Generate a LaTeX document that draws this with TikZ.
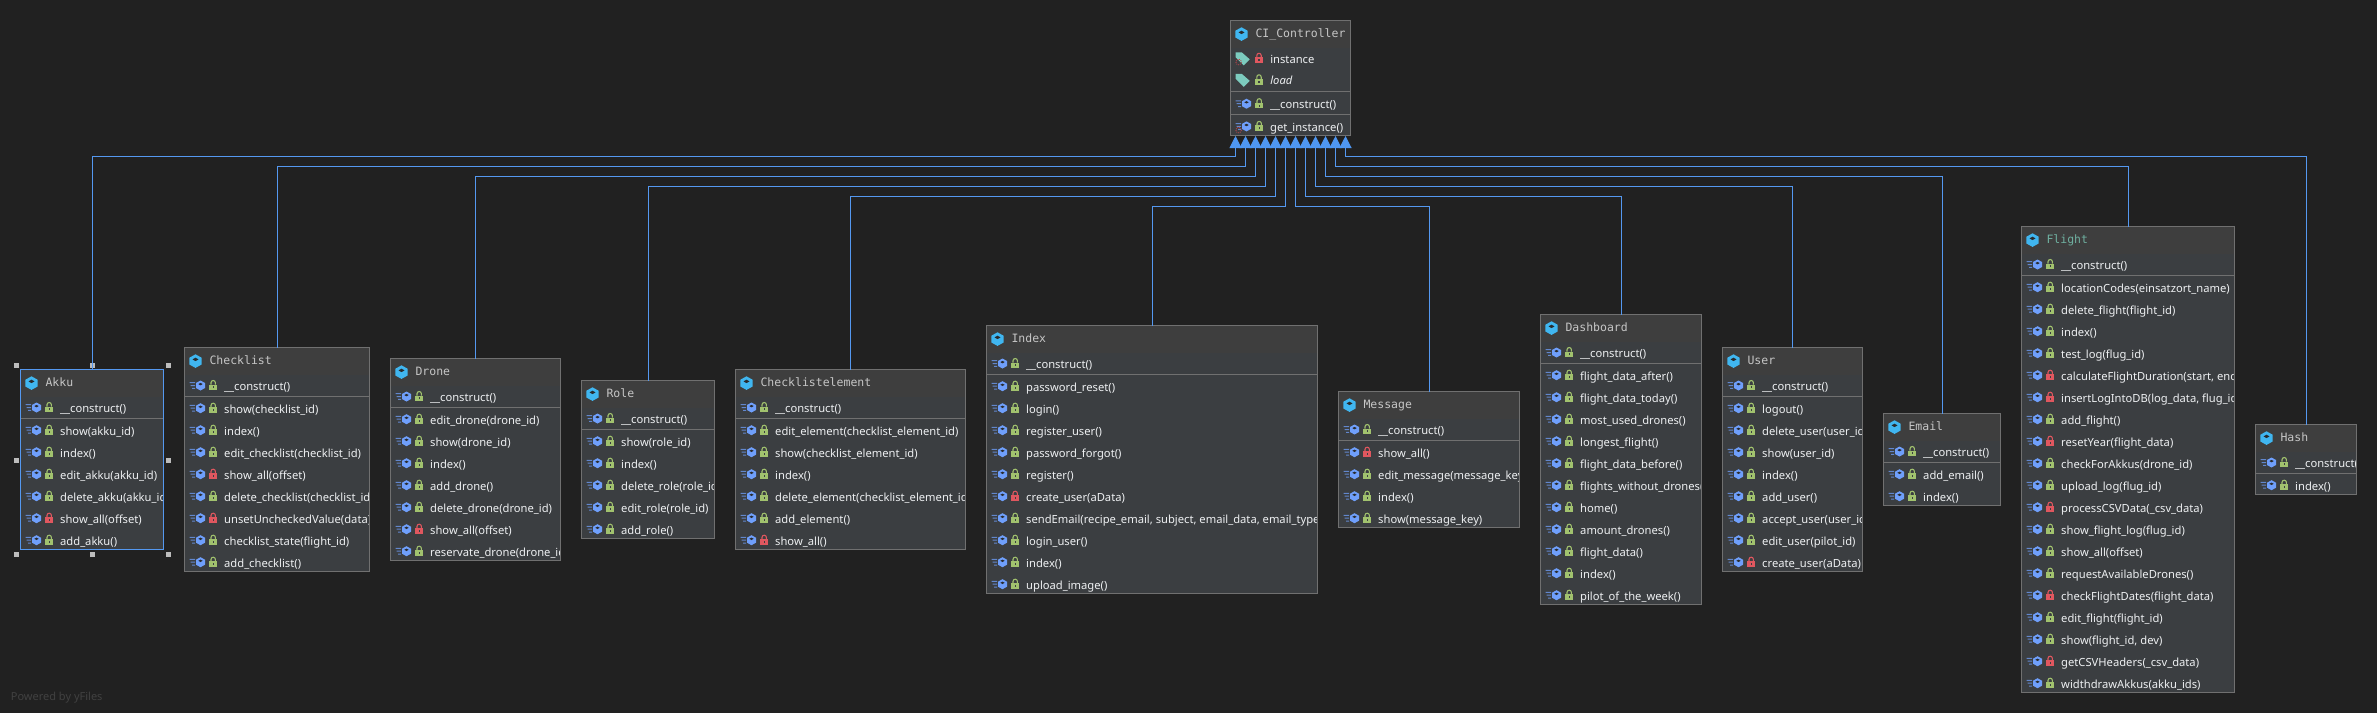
\documentclass[tikz,border=0pt]{standalone}
\usepackage{fontspec}
\setmainfont{Noto Sans}
\newfontfamily\titlefont{DejaVu Sans Mono}
\usetikzlibrary{arrows.meta}
\definecolor{bgc}{HTML}{212121}
\definecolor{bodyc}{HTML}{3B3E41}
\definecolor{headc}{HTML}{3E3E3E}
\definecolor{edgec}{HTML}{707070}
\definecolor{linec}{HTML}{5498F0}
\definecolor{tipc}{HTML}{4F97F2}
\definecolor{cubec}{HTML}{40B6F0}
\definecolor{methc}{HTML}{6F9FFB}
\definecolor{okc}{HTML}{A1C26E}
\definecolor{redc}{HTML}{E0575F}
\definecolor{tagc}{HTML}{7CCBBE}
\definecolor{titlec}{HTML}{C6C6C6}
\definecolor{textc}{HTML}{EEF0F2}
\definecolor{flightc}{HTML}{6FB0A0}
\definecolor{handlec}{HTML}{BDBDBD}
\definecolor{yfc}{HTML}{414141}
\tikzset{
  classbox/.style={draw=edgec,fill=bodyc,line width=1pt,inner sep=0pt,outer sep=0pt,anchor=north west},
  titletext/.style={anchor=base west,inner sep=0pt,outer sep=0pt,text=titlec,font=\titlefont\fontsize{11.5}{13}\selectfont},
  rowtext/.style={anchor=base west,inner sep=0pt,outer sep=0pt,text=textc,font=\fontsize{11.2}{13}\selectfont},
  inh/.style={draw=linec,line width=1pt,-{Triangle[width=12pt,length=12pt,color=tipc]}},
  sepline/.style={draw=edgec,line width=1pt},
}
\newcommand\classicon[2]{\begin{scope}[shift={(#1,#2)}]
  \fill[cubec] (0,-6.8) -- (6.1,-3.4) -- (6.1,3.4) -- (0,6.8) -- (-6.1,3.4) -- (-6.1,-3.4) -- cycle;
  \fill[bodyc!70!black] (0,-3.4) -- (3,-1.7) -- (0,0) -- (-3,-1.7) -- cycle;
\end{scope}}
\newcommand\methodicon[2]{\begin{scope}[shift={(#1,#2)}]
  \fill[methc] (0,-5) -- (4.5,-2.5) -- (4.5,2.5) -- (0,5) -- (-4.5,2.5) -- (-4.5,-2.5) -- cycle;
  \fill[bodyc!70!black] (0,-2.6) -- (2.2,-1.4) -- (0,-.2) -- (-2.2,-1.4) -- cycle;
  \fill[methc!75!bodyc] (-11,-3.4) rectangle (-5.4,-2.4) (-10,-.5) rectangle (-5.4,.5) (-8.5,2.4) rectangle (-5.4,3.4);
\end{scope}}
\newcommand\lockicon[3]{\begin{scope}[shift={(#1,#2)}]
  \draw[#3,line width=1.1pt] (-2.2,-.8) -- (-2.2,-2.8) arc[start angle=180,end angle=0,x radius=2.2,y radius=-2.2] -- (2.2,-.8);
  \fill[#3] (-3.8,-1) rectangle (3.8,4.7);
  \fill[bodyc] (-.7,.8) rectangle (.7,2.8);
\end{scope}}
\newcommand\tagicon[2]{\begin{scope}[shift={(#1,#2)}]
  \fill[tagc] (-7,-6) -- (-1,-6) -- (7,1) -- (1,7) -- (-7,-1) -- cycle;
\end{scope}}
\newcommand\staticmark[2]{\draw[redc!80!black,line width=.9pt,densely dotted] (#1,#2) circle[radius=2.8];}
% row of a method list: node name, x0, baseline y, lock colour, text
\newcommand\methodrow[5]{%
  \pgfmathsetmacro\ix{#2+16}\pgfmathsetmacro\iy{#3-5}\pgfmathsetmacro\lx{#2+28.7}\pgfmathsetmacro\tx{#2+39.7}%
  \methodicon{\ix}{\iy}\lockicon{\lx}{\iy}{#4}%
  \node[rowtext] (#1) at (\tx,#3) {#5};}
\newcommand\classbody[6]{% name, x0, x1, y0, title colour, title
  \pgfmathsetmacro\hx{#2+.5}\pgfmathsetmacro\hxx{#3-.5}\pgfmathsetmacro\hy{#4+.5}\pgfmathsetmacro\hyy{#4+27}%
  \fill[headc] (\hx,\hy) rectangle (\hxx,\hyy);
  \pgfmathsetmacro\ix{#2+11}\pgfmathsetmacro\iy{#4+13.6}\classicon{\ix}{\iy}%
  \pgfmathsetmacro\tx{#2+25}\pgfmathsetmacro\ty{#4+16.5}%
  \node[titletext,text=#5] (#1-title) at (\tx,\ty) {#6};
}
% full class: name, x0, x1, y0, row count, title colour, title, rows
\newcommand\fullclass[8]{%
  \pgfmathsetmacro\bw{#3-#2}\pgfmathsetmacro\hh{48+22*#5}%
  \node[classbox,minimum width=\bw pt,minimum height=\hh pt] (#1) at (#2,#4) {};
  \classbody{#1}{#2}{#3}{#4}{#6}{#7}
  \begin{scope}
    \pgfmathsetmacro\cy{#4+\hh-.5}\pgfmathsetmacro\cxa{#2+.5}\pgfmathsetmacro\cxb{#3-.5}\pgfmathsetmacro\cyy{#4+.5}%
    \clip (\cxa,\cyy) rectangle (\cxb,\cy);
    \pgfmathsetmacro\cb{#4+43}%
    \methodrow{#1-ctor}{#2}{\cb}{okc}{\_\_construct()}
    \foreach \cc/\mm [count=\i] in {#8} {
      \pgfmathsetmacro\by{#4+65.7+22*(\i-1)}
      \methodrow{#1-r\i}{#2}{\by}{\cc}{\mm}
    }
  \end{scope}
  \pgfmathsetmacro\sy{#4+49}%
  \draw[sepline] (#2,\sy) -- (#3,\sy);
  \node[classbox,fill=none,minimum width=\bw pt,minimum height=\hh pt] (#1-frame) at (#2,#4) {};
}
\begin{document}
\begin{tikzpicture}[x=1pt,y=-1pt]
\useasboundingbox (0,0) rectangle (2377,713);
\fill[bgc] (0,0) rectangle (2377,713);

% ---- parent class
\node[classbox,minimum width=120pt,minimum height=115pt] (ci) at (1230.5,20.5) {};
\classbody{ci}{1230.5}{1350.5}{20.5}{titlec}{CI\_Controller}
\tagicon{1242.7}{58.3}\staticmark{1238.6}{62}
\lockicon{1259}{58.3}{redc}
\node[rowtext] (ci-instance) at (1270.3,63) {instance};
\tagicon{1242.7}{79.8}
\lockicon{1259}{79.8}{okc}
\node[rowtext,font=\itshape\fontsize{11.2}{13}\selectfont] (ci-load) at (1270.3,84.6) {load};
\draw[sepline] (1230.5,91.5) -- (1350.5,91.5);
\methodrow{ci-ctor}{1230.5}{108.7}{okc}{\_\_construct()}
\draw[sepline] (1230.5,114.5) -- (1350.5,114.5);
\methodrow{ci-get}{1230.5}{131.4}{okc}{get\_instance()}
\staticmark{1238.6}{130}

% ---- child classes
\fullclass{akku}{20.5}{163.5}{369.5}{6}{titlec}{Akku}{okc/{show(akku\_id)},okc/{index()},okc/{edit\_akku(akku\_id)},okc/{delete\_akku(akku\_id)},redc/{show\_all(offset)},okc/{add\_akku()}}
\fullclass{checklist}{184.5}{369.5}{347.5}{8}{titlec}{Checklist}{okc/{show(checklist\_id)},okc/{index()},okc/{edit\_checklist(checklist\_id)},redc/{show\_all(offset)},okc/{delete\_checklist(checklist\_id)},redc/{unsetUncheckedValue(data)},okc/{checklist\_state(flight\_id)},okc/{add\_checklist()}}
\fullclass{drone}{390.5}{560.5}{358.5}{7}{titlec}{Drone}{okc/{edit\_drone(drone\_id)},okc/{show(drone\_id)},okc/{index()},okc/{add\_drone()},okc/{delete\_drone(drone\_id)},redc/{show\_all(offset)},okc/{reservate\_drone(drone\_id)}}
\fullclass{role}{581.5}{714.5}{380.5}{5}{titlec}{Role}{okc/{show(role\_id)},okc/{index()},okc/{delete\_role(role\_id)},okc/{edit\_role(role\_id)},okc/{add\_role()}}
\fullclass{celement}{735.5}{965.5}{369.5}{6}{titlec}{Checklistelement}{okc/{edit\_element(checklist\_element\_id)},okc/{show(checklist\_element\_id)},okc/{index()},okc/{delete\_element(checklist\_element\_id)},okc/{add\_element()},redc/{show\_all()}}
\fullclass{index}{986.5}{1317.5}{325.5}{10}{titlec}{Index}{okc/{password\_reset()},okc/{login()},okc/{register\_user()},okc/{password\_forgot()},okc/{register()},redc/{create\_user(aData)},okc/{sendEmail(recipe\_email, subject, email\_data, email\_type)},okc/{login\_user()},okc/{index()},okc/{upload\_image()}}
\fullclass{message}{1338.5}{1519.5}{391.5}{4}{titlec}{Message}{redc/{show\_all()},okc/{edit\_message(message\_key)},okc/{index()},okc/{show(message\_key)}}
\fullclass{dashboard}{1540.5}{1701.5}{314.5}{11}{titlec}{Dashboard}{okc/{flight\_data\_after()},okc/{flight\_data\_today()},okc/{most\_used\_drones()},okc/{longest\_flight()},okc/{flight\_data\_before()},okc/{flights\_without\_drones()},okc/{home()},okc/{amount\_drones()},okc/{flight\_data()},okc/{index()},okc/{pilot\_of\_the\_week()}}
\fullclass{user}{1722.5}{1862.5}{347.5}{8}{titlec}{User}{okc/{logout()},okc/{delete\_user(user\_id)},okc/{show(user\_id)},okc/{index()},okc/{add\_user()},okc/{accept\_user(user\_id)},okc/{edit\_user(pilot\_id)},redc/{create\_user(aData)}}
\fullclass{email}{1883.5}{2000.5}{413.5}{2}{titlec}{Email}{okc/{add\_email()},okc/{index()}}
\fullclass{flight}{2021.5}{2234.5}{226.5}{19}{flightc}{Flight}{okc/{locationCodes(einsatzort\_name)},okc/{delete\_flight(flight\_id)},okc/{index()},okc/{test\_log(flug\_id)},redc/{calculateFlightDuration(start, end)},redc/{insertLogIntoDB(log\_data, flug\_id)},okc/{add\_flight()},redc/{resetYear(flight\_data)},okc/{checkForAkkus(drone\_id)},okc/{upload\_log(flug\_id)},redc/{processCSVData(\_csv\_data)},okc/{show\_flight\_log(flug\_id)},okc/{show\_all(offset)},okc/{requestAvailableDrones()},redc/{checkFlightDates(flight\_data)},okc/{edit\_flight(flight\_id)},okc/{show(flight\_id, dev)},redc/{getCSVHeaders(\_csv\_data)},okc/{widthdrawAkkus(akku\_ids)}}
\fullclass{hash}{2255.5}{2356.5}{424.5}{1}{titlec}{Hash}{okc/{index()}}

% ---- selected class
\draw[linec,line width=1pt] (akku-frame.north west) rectangle (akku-frame.south east);
\foreach \hx in {16.7,92.3,168.3} \foreach \hy in {365.3,460,554.3} {
  \ifdim\hx pt=92.3pt \ifdim\hy pt=460pt \else \fill[handlec] (\hx-2.5,\hy-2.5) rectangle (\hx+2.5,\hy+2.5); \fi
  \else \fill[handlec] (\hx-2.5,\hy-2.5) rectangle (\hx+2.5,\hy+2.5); \fi
}

% ---- connector ends
\foreach \i/\x in {1/1235.5,2/1245.5,3/1255.5,4/1265.5,5/1275.5,6/1285.5,7/1295.5,8/1305.5,9/1315.5,10/1325.5,11/1335.5,12/1345.5}
  \coordinate (t\i) at (\x,136);
\foreach \i/\y in {1/156.5,2/166.5,3/176.5,4/186.5,5/196.5,6/206.5}
  \coordinate (lv\i) at (0,\y);

\draw[inh] ([xshift=.5pt]akku.north) |- (lv1 -| t1) -- (t1);
\draw[inh] ([xshift=.5pt]checklist.north) |- (lv2 -| t2) -- (t2);
\draw[inh] (drone.north) |- (lv3 -| t3) -- (t3);
\draw[inh] ([xshift=.5pt]role.north) |- (lv4 -| t4) -- (t4);
\draw[inh] (celement.north) |- (lv5 -| t5) -- (t5);
\draw[inh] ([xshift=.5pt]index.north) |- (lv6 -| t6) -- (t6);
\draw[inh] ([xshift=.5pt]message.north) |- (lv6 -| t7) -- (t7);
\draw[inh] ([xshift=.5pt]dashboard.north) |- (lv5 -| t8) -- (t8);
\draw[inh] (user.north) |- (lv4 -| t9) -- (t9);
\draw[inh] ([xshift=.5pt]email.north) |- (lv3 -| t10) -- (t10);
\draw[inh] ([xshift=.5pt]flight.north) |- (lv2 -| t11) -- (t11);
\draw[inh] ([xshift=.5pt]hash.north) |- (lv1 -| t12) -- (t12);

\node[anchor=base west,inner sep=0pt,text=yfc,font=\fontsize{11}{13}\selectfont] (yfiles) at (10.7,700.7) {Powered by yFiles};
\end{tikzpicture}
\end{document}
